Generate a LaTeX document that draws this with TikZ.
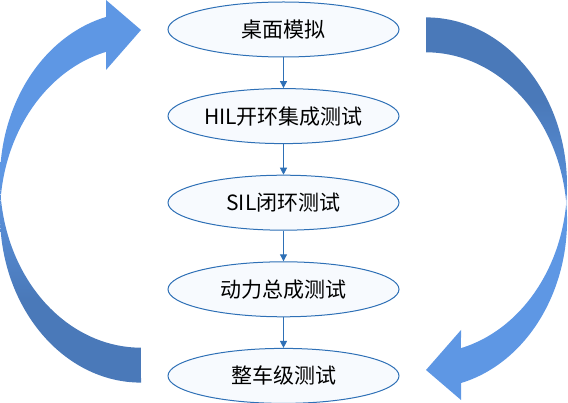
\documentclass[tikz,border=0pt]{standalone}
\usepackage{fontspec}
\newfontfamily\cjk{Noto Sans CJK SC}
\usetikzlibrary{arrows.meta, positioning, shapes.geometric}

\definecolor{stageline}{RGB}{46,112,182}
\definecolor{stagefill}{RGB}{247,250,254}
\definecolor{arrowlight}{RGB}{94,151,228}
\definecolor{arrowdark}{RGB}{74,121,185}
\pgfdeclareverticalshading{bandshade}{100bp}{color(0bp)=(arrowdark); color(36bp)=(arrowdark); color(52bp)=(arrowlight); color(100bp)=(arrowlight)}

\tikzset{
    stage/.style={ellipse, draw=stageline, fill=stagefill, line width=1pt,
        minimum width=231pt, minimum height=55pt, inner sep=0pt,
        font=\cjk\fontsize{21}{25}\selectfont},
    flow/.style={-{Triangle[length=7pt, width=7pt]}, draw=stageline, line width=1pt}
}

\begin{document}
\begin{tikzpicture}[x=1pt, y=1pt, node distance=30.6pt]

        \useasboundingbox (0,0) rectangle (568,402);

        \foreach \ang in {0,180}
            \path[shading=bandshade, shading angle=\ang, rotate around={\ang:(283.5,202)}]
                (141,19.4) arc[start angle=270, end angle=104.37, x radius=141, y radius=168]
                -- (106,332) -- (141,372) -- (106,402) -- (106,385.05)
                arc[start angle=104.37, end angle=270, x radius=141, y radius=168] -- cycle;

        \node[stage] (desk) at (283.5,372.5) {桌面模拟};
        \node[stage, below=of desk] (hil) {HIL开环集成测试};
        \node[stage, below=of hil] (sil) {SIL闭环测试};
        \node[stage, below=of sil] (power) {动力总成测试};
        \node[stage, below=of power] (vehicle) {整车级测试};

        \foreach \a/\b in {desk/hil, hil/sil, sil/power, power/vehicle}
            \draw[flow] (\a) -- (\b);

    \end{tikzpicture}
\end{document}
